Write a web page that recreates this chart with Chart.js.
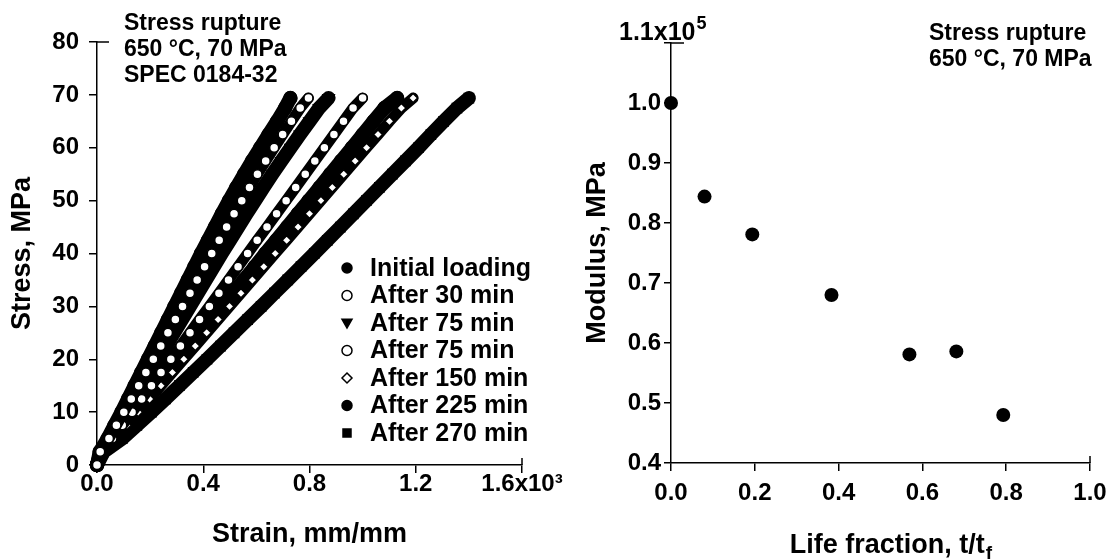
<!DOCTYPE html>
<html>
<head>
<meta charset="utf-8">
<script src="https://cdn.jsdelivr.net/npm/chart.js@4.4.0/dist/chart.umd.min.js"></script>
<style>
  html, body { margin: 0; padding: 0; background: #fff; }
  body { width: 1119px; height: 560px; position: relative; overflow: hidden; }
  #left { position: absolute; left: 0; top: 0; }
  #right { position: absolute; left: 560px; top: 0; }
</style>
</head>
<body>
<canvas id="left" width="600" height="560"></canvas>
<canvas id="right" width="559" height="560"></canvas>
<script>
const FONT = '"Liberation Sans", Arial, Helvetica, sans-serif';

// ---- left panel: stress (MPa) vs strain (x10^-3 mm/mm) ----
const STRESS = [0, 2.5, 5, 7.5, 10, 12.5, 15, 17.5, 20, 22.5, 25, 27.5, 30, 32.5, 35,
  37.5, 40, 42.5, 45, 47.5, 50, 52.5, 55, 57.5, 60, 62.5, 65, 67.5, 69.4];

const STRAIN_INITIAL = [0, 0.010, 0.040, 0.066, 0.092, 0.117, 0.142, 0.167, 0.192, 0.217,
  0.242, 0.267, 0.292, 0.317, 0.342, 0.367, 0.392, 0.418, 0.444, 0.470, 0.497, 0.525,
  0.554, 0.584, 0.615, 0.646, 0.678, 0.708, 0.728];
const STRAIN_30 = [0, 0.012, 0.045, 0.073, 0.101, 0.129, 0.157, 0.184, 0.212, 0.240,
  0.267, 0.295, 0.322, 0.350, 0.377, 0.405, 0.432, 0.460, 0.488, 0.516, 0.545, 0.574,
  0.604, 0.635, 0.667, 0.699, 0.732, 0.765, 0.796];
const STRAIN_75A = [0, 0.013, 0.050, 0.080, 0.110, 0.140, 0.170, 0.200, 0.230, 0.260,
  0.290, 0.320, 0.350, 0.380, 0.410, 0.440, 0.470, 0.501, 0.532, 0.563, 0.595, 0.627,
  0.660, 0.694, 0.729, 0.764, 0.800, 0.836, 0.872];
const STRAIN_75B = [0, 0.015, 0.058, 0.095, 0.132, 0.168, 0.205, 0.241, 0.278, 0.314,
  0.350, 0.386, 0.423, 0.459, 0.495, 0.531, 0.567, 0.603, 0.640, 0.676, 0.712, 0.748,
  0.784, 0.820, 0.856, 0.892, 0.928, 0.964, 1.000];
const STRAIN_150 = [0, 0.018, 0.068, 0.112, 0.155, 0.198, 0.241, 0.284, 0.327, 0.370,
  0.413, 0.456, 0.499, 0.542, 0.585, 0.628, 0.671, 0.714, 0.757, 0.800, 0.843, 0.886,
  0.929, 0.972, 1.015, 1.058, 1.101, 1.146, 1.190];
const STRAIN_225 = [0, 0.017, 0.064, 0.105, 0.146, 0.187, 0.228, 0.268, 0.309, 0.350,
  0.390, 0.431, 0.472, 0.512, 0.553, 0.594, 0.634, 0.675, 0.716, 0.756, 0.797, 0.838,
  0.878, 0.919, 0.960, 1.000, 1.041, 1.082, 1.130];
const STRAIN_270 = [0, 0.025, 0.095, 0.150, 0.205, 0.258, 0.310, 0.362, 0.414, 0.465,
  0.516, 0.567, 0.618, 0.668, 0.718, 0.768, 0.818, 0.867, 0.916, 0.965, 1.014, 1.063,
  1.112, 1.161, 1.210, 1.257, 1.305, 1.355, 1.400];

const SERIES_NAMES = ['Initial loading', 'After 30 min', 'After 75 min', 'After 75 min',
  'After 150 min', 'After 225 min', 'After 270 min'];
const STRAIN_TICKS = [0, 0.4, 0.8, 1.2, 1.6];
const STRESS_TICKS = [0, 10, 20, 30, 40, 50, 60, 70, 80];

// ---- right panel: modulus (x10^5 MPa) vs life fraction ----
const LIFE_FRACTION = [0, 0.080, 0.194, 0.383, 0.569, 0.681, 0.793];
const MODULUS = [1.0, 0.844, 0.781, 0.680, 0.581, 0.586, 0.480];
const LIFE_TICKS = [0, 0.2, 0.4, 0.6, 0.8, 1.0];
const MODULUS_TICKS = [0.4, 0.5, 0.6, 0.7, 0.8, 0.9, 1.0, 1.1];

// marker look for each strain series (same order as SERIES_NAMES)
const MARKERS = [
  { shape: 'circle', filled: true },
  { shape: 'circle', filled: false },
  { shape: 'triangle', filled: true },
  { shape: 'circle', filled: false },
  { shape: 'diamond', filled: false },
  { shape: 'circle', filled: true },
  { shape: 'square', filled: true }
];
const STRAINS = [STRAIN_INITIAL, STRAIN_30, STRAIN_75A, STRAIN_75B, STRAIN_150, STRAIN_225, STRAIN_270];

function drawMarker(ctx, shape, filled, x, y, r) {
  ctx.beginPath();
  if (shape === 'circle') ctx.arc(x, y, r, 0, Math.PI * 2);
  else if (shape === 'triangle') {
    ctx.moveTo(x - r, y - r * 0.75); ctx.lineTo(x + r, y - r * 0.75); ctx.lineTo(x, y + r); ctx.closePath();
  } else if (shape === 'diamond') {
    ctx.moveTo(x, y - r); ctx.lineTo(x + r, y); ctx.lineTo(x, y + r); ctx.lineTo(x - r, y); ctx.closePath();
  } else ctx.rect(x - r * 0.8, y - r * 0.8, r * 1.6, r * 1.6);
  ctx.fillStyle = filled ? '#000' : '#fff';
  ctx.fill();
  ctx.lineWidth = 1.5;
  ctx.strokeStyle = '#000';
  ctx.stroke();
}

const fixTicks = list => scale => { scale.ticks = list.map(v => ({ value: v })); };
const bold = size => ({ family: FONT, size, weight: 'bold' });

// text, end ticks and legend drawn on top of each panel
const extras = {
  id: 'extras',
  afterDraw(chart, args, opts) {
    const ctx = chart.ctx;
    const { x, y } = chart.scales;
    ctx.save();
    ctx.strokeStyle = '#000';
    ctx.lineWidth = 1.5;
    ctx.beginPath();
    ctx.moveTo(x.left, y.top); ctx.lineTo(x.left + opts.capIn, y.top);
    ctx.moveTo(x.right, y.bottom); ctx.lineTo(x.right, y.bottom - 7);
    ctx.stroke();
    ctx.fillStyle = '#000';
    ctx.textBaseline = 'alphabetic';
    ctx.textAlign = 'left';
    ctx.font = 'bold 23px ' + FONT;
    opts.note.forEach((line, i) => ctx.fillText(line, opts.noteX, opts.noteY + i * 26));
    if (opts.topLabel) {
      ctx.font = 'bold 25px ' + FONT;
      const w = ctx.measureText(opts.topLabel).width;
      const lx = x.left - 52;
      ctx.fillText(opts.topLabel, lx, 40);
      ctx.font = 'bold 18px ' + FONT;
      ctx.fillText('5', lx + w + 1, 29);
    }
    if (opts.xTitle) {
      ctx.font = 'bold 27px ' + FONT;
      const w1 = ctx.measureText(opts.xTitle).width;
      ctx.font = 'bold 19px ' + FONT;
      const w2 = ctx.measureText('f').width;
      const cx = (x.left + x.right) / 2 + 10;
      const sx = cx - (w1 + w2) / 2;
      ctx.font = 'bold 27px ' + FONT;
      ctx.fillText(opts.xTitle, sx, 553);
      ctx.font = 'bold 19px ' + FONT;
      ctx.fillText('f', sx + w1 + 1, 559);
    }
    if (opts.legend) {
      ctx.textBaseline = 'middle';
      ctx.font = 'bold 25px ' + FONT;
      SERIES_NAMES.forEach((name, i) => {
        const ly = 268 + i * 27.5;
        drawMarker(ctx, MARKERS[i].shape, MARKERS[i].filled, 347, ly, 5);
        ctx.fillStyle = '#000';
        ctx.fillText(name, 370, ly + 1);
      });
    }
    ctx.restore();
  }
};

const leftSets = STRAINS.map((strain, i) => {
  const m = MARKERS[i];
  const style = { circle: 'circle', triangle: 'triangle', diamond: 'rectRot', square: 'rect' }[m.shape];
  return {
    label: SERIES_NAMES[i],
    data: STRESS.map((s, k) => ({ x: strain[k], y: s })),
    showLine: true,
    borderColor: '#000',
    borderWidth: m.filled ? 14 : 11,
    borderCapStyle: 'round',
    borderJoinStyle: 'round',
    pointStyle: style,
    rotation: m.shape === 'triangle' ? 180 : 0,
    pointRadius: m.filled ? 6.5 : 4.5,
    pointBorderWidth: 1.5,
    pointBorderColor: '#000',
    pointBackgroundColor: m.filled ? '#000' : '#fff',
    order: m.filled ? 1 : 0,
    clip: false
  };
});

new Chart(document.getElementById('left'), {
  type: 'scatter',
  data: { datasets: leftSets },
  options: {
    responsive: false,
    animation: false,
    events: [],
    layout: { padding: { left: 0, top: 42, right: 78, bottom: 0 } },
    plugins: {
      legend: { display: false },
      tooltip: { enabled: false },
      extras: { capIn: 12, note: ['Stress rupture', '650 °C, 70 MPa', 'SPEC 0184-32'], noteX: 124, noteY: 30, legend: true }
    },
    scales: {
      x: {
        type: 'linear', min: 0, max: 1.6,
        afterBuildTicks: fixTicks(STRAIN_TICKS),
        afterFit: s => { s.height = 95; },
        ticks: {
          color: '#000', font: bold(24), padding: -3, maxRotation: 0, autoSkip: false,
          callback: v => Math.abs(v - 1.6) < 1e-9 ? '1.6x10³' : v.toFixed(1)
        },
        grid: { drawOnChartArea: false, color: '#000', lineWidth: 1.5, tickLength: 8 },
        border: { color: '#000', width: 1.5 },
        title: { display: true, text: 'Strain, mm/mm', color: '#000', font: bold(27), padding: { top: 0, bottom: 9 } }
      },
      y: {
        type: 'linear', min: 0, max: 80,
        afterBuildTicks: fixTicks(STRESS_TICKS),
        afterFit: s => { s.width = 97; },
        ticks: { color: '#000', font: bold(24), padding: 10, autoSkip: false, callback: v => String(v) },
        grid: { drawOnChartArea: false, color: '#000', lineWidth: 1.5, tickLength: 8 },
        border: { color: '#000', width: 1.5 },
        title: { display: true, text: 'Stress, MPa', color: '#000', font: bold(27), padding: { top: 6, bottom: 0 } }
      }
    }
  },
  plugins: [extras]
});

new Chart(document.getElementById('right'), {
  type: 'scatter',
  data: {
    datasets: [{
      label: 'Modulus',
      data: LIFE_FRACTION.map((f, i) => ({ x: f, y: MODULUS[i] })),
      pointRadius: 7,
      pointBackgroundColor: '#000',
      pointBorderWidth: 0,
      clip: false
    }]
  },
  options: {
    responsive: false,
    animation: false,
    events: [],
    layout: { padding: { left: 0, top: 43, right: 29, bottom: 0 } },
    plugins: {
      legend: { display: false },
      tooltip: { enabled: false },
      extras: { capIn: 13, note: ['Stress rupture', '650 °C, 70 MPa'], noteX: 369, noteY: 40, topLabel: '1.1x10', xTitle: 'Life fraction, t/t' }
    },
    scales: {
      x: {
        type: 'linear', min: 0, max: 1.0,
        afterBuildTicks: fixTicks(LIFE_TICKS),
        afterFit: s => { s.height = 97; },
        ticks: { color: '#000', font: bold(24), padding: 8, maxRotation: 0, autoSkip: false, callback: v => v.toFixed(1) },
        grid: { drawOnChartArea: false, color: '#000', lineWidth: 1.5, tickLength: 8 },
        border: { color: '#000', width: 1.5 },
        title: { display: false }
      },
      y: {
        type: 'linear', min: 0.4, max: 1.1,
        afterBuildTicks: fixTicks(MODULUS_TICKS),
        afterFit: s => { s.width = 111; },
        ticks: { color: '#000', font: bold(24), padding: 3, autoSkip: false, callback: v => Math.abs(v - 1.1) < 1e-9 ? '' : v.toFixed(1) },
        grid: { drawOnChartArea: false, color: '#000', lineWidth: 1.5, tickLength: 7 },
        border: { color: '#000', width: 1.5 },
        title: { display: true, text: 'Modulus, MPa', color: '#000', font: bold(27), padding: { top: 21, bottom: 0 } }
      }
    }
  },
  plugins: [extras]
});
</script>
</body>
</html>
